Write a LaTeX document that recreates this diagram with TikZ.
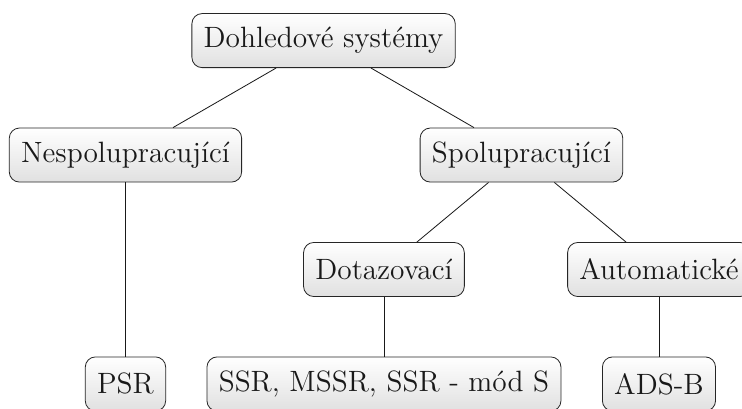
\documentclass[tikz,border=0pt]{standalone}
\usepackage{tikz}
\usepackage{xcolor}

\begin{document}
\begin{tikzpicture}[x=1pt,y=1pt]
\tikzset{every node/.style={draw=black!85,rounded corners=5pt,top color=white,bottom color=black!12,minimum height=26.5pt,inner xsep=5.8pt,font=\Large}}
\tikzset{every path/.style={black!90}}

\useasboundingbox (0,0) rectangle (363.7,-200);

\node (sys) at (158.6,-19.9) {Dohledové systémy};
\node (nespol) at (61.5,-76.0) {Nespolupracující};
\node (spol) at (255.6,-76.0) {Spolupracující};
\node (dotaz) at (188.2,-132.1) {Dotazovací};
\node (auto) at (323.0,-132.1) {Automatické};
\node (psr) at (61.5,-188.2) {PSR};
\node (ssr) at (188.2,-188.2) {SSR, MSSR, SSR - mód S};
\node (adsb) at (323.0,-188.2) {ADS-B};

\draw (sys) -- (nespol);
\draw (sys) -- (spol);
\draw (nespol) -- (psr);
\draw (spol) -- (dotaz);
\draw (spol) -- (auto);
\draw (dotaz) -- (ssr);
\draw (auto) -- (adsb);

\end{tikzpicture}
\end{document}
